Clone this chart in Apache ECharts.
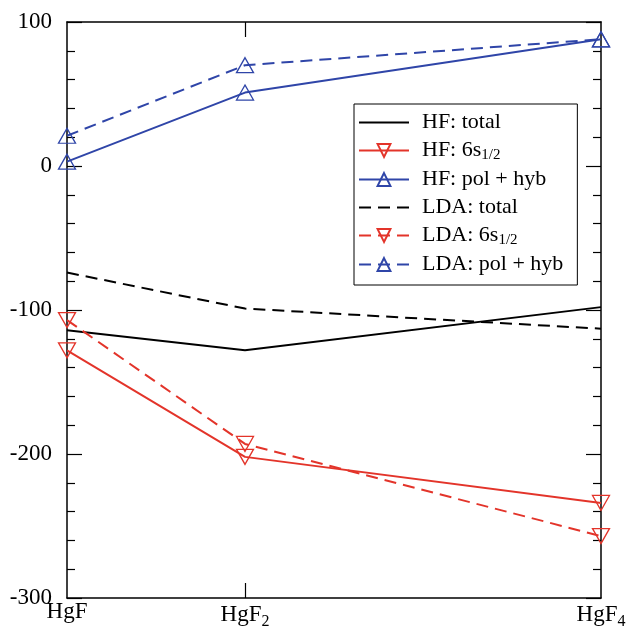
<!DOCTYPE html>
<html>
<head>
<meta charset="utf-8">
<script src="https://cdn.jsdelivr.net/npm/echarts@6/dist/echarts.min.js"></script>
<style>
  html, body { margin: 0; padding: 0; background: #fff; }
  #chart { width: 630px; height: 627px; }
</style>
</head>
<body>
<div id="chart"></div>
<script>
// x positions of the molecules (HgF, HgF2, HgF4 -> number of F atoms)
const xPos = [1, 2, 4]
const xLabels = ['HgF', 'HgF2', 'HgF4']

const hfTotal = [-114, -128, -98]
const hf6s = [-128, -202, -234]
const hfPol = [3, 51, 88]
const ldaTotal = [-74, -99, -113]
const lda6s = [-107, -193, -257]
const ldaPol = [21, 70, 88]

const red = '#e3342a'
const blue = '#2f45a8'
const serif = 'Liberation Serif'

function pts (vals) {
  return vals.map((v, i) => [xPos[i], v])
}

// subscript style for rich text
const subStyle = { fontSize: 15, fontFamily: serif, color: '#000', padding: [10, 0, 0, 0] }

function lineSeries (name, vals, color, dashed, symbol) {
  return {
    name: name,
    type: 'line',
    data: pts(vals),
    lineStyle: { color: color, width: 2, type: dashed ? [12, 7] : 'solid' },
    // totals have no marker: keep symbol invisible (also in the legend)
    itemStyle: symbol
      ? { color: 'rgba(0,0,0,0)', borderColor: color, borderWidth: 1.3 }
      : { color: 'rgba(0,0,0,0)', borderColor: 'rgba(0,0,0,0)', borderWidth: 0 },
    symbol: 'triangle',
    symbolSize: [17, 15],
    symbolRotate: symbol === 'down' ? 180 : 0,
    showSymbol: !!symbol,
    animation: false,
    z: 3
  }
}

const axisLine = { show: true, onZero: false, lineStyle: { color: '#000', width: 1.5 } }
const tickLine = { color: '#000', width: 1.2 }

var myChart = echarts.init(document.getElementById('chart'))

var option = {
  backgroundColor: '#fff',
  animation: false,
  grid: { left: 67, top: 22, right: 29, bottom: 29, outerBoundsMode: 'none', containLabel: false },
  legend: {
    orient: 'vertical',
    left: 354,
    top: 104,
    padding: [7, 14, 9, 4],
    itemWidth: 50,
    itemHeight: 16,
    itemGap: 5,
    borderColor: '#000',
    borderWidth: 1,
    borderRadius: 0,
    backgroundColor: '#fff',
    textStyle: { fontSize: 22, fontFamily: serif, color: '#000', lineHeight: 23, padding: [0, 0, 0, 8], rich: { sub: subStyle } },
    formatter: function (name) {
      return name.replace('6s1/2', '6s{sub|1/2}')
    },
    data: ['HF: total', 'HF: 6s1/2', 'HF: pol + hyb', 'LDA: total', 'LDA: 6s1/2', 'LDA: pol + hyb']
  },
  xAxis: [
    {
      type: 'value',
      min: 1,
      max: 4,
      position: 'bottom',
      axisLine: axisLine,
      splitLine: { show: false },
      axisTick: { show: true, inside: true, length: 15, customValues: [2], lineStyle: tickLine },
      axisLabel: {
        customValues: xPos,
        margin: 2,
        fontSize: 23,
        fontFamily: serif,
        color: '#000',
        formatter: function (v) {
          const lab = xLabels[xPos.indexOf(v)]
          if (lab.length > 3) return lab.slice(0, 3) + '{sub|' + lab.slice(3) + '}'
          return lab
        },
        rich: { sub: { fontSize: 16, fontFamily: serif, color: '#000', padding: [14, 0, 0, 0] } }
      }
    },
    {
      type: 'value',
      min: 1,
      max: 4,
      position: 'top',
      axisLine: axisLine,
      splitLine: { show: false },
      axisTick: { show: true, inside: true, length: 15, customValues: [2], lineStyle: tickLine },
      axisLabel: { show: false }
    }
  ],
  yAxis: [
    {
      type: 'value',
      min: -300,
      max: 100,
      interval: 100,
      position: 'left',
      axisLine: axisLine,
      splitLine: { show: false },
      axisTick: { show: true, inside: true, length: 15, lineStyle: tickLine },
      minorTick: { show: true, splitNumber: 5, length: 8, lineStyle: tickLine },
      axisLabel: { margin: 15, fontSize: 23, fontFamily: serif, color: '#000' }
    },
    {
      type: 'value',
      min: -300,
      max: 100,
      interval: 100,
      position: 'right',
      axisLine: axisLine,
      splitLine: { show: false },
      axisTick: { show: true, inside: true, length: 15, lineStyle: tickLine },
      minorTick: { show: true, splitNumber: 5, length: 8, lineStyle: tickLine },
      axisLabel: { show: false }
    }
  ],
  series: [
    lineSeries('HF: total', hfTotal, '#000', false, null),
    lineSeries('HF: 6s1/2', hf6s, red, false, 'down'),
    lineSeries('HF: pol + hyb', hfPol, blue, false, 'up'),
    lineSeries('LDA: total', ldaTotal, '#000', true, null),
    lineSeries('LDA: 6s1/2', lda6s, red, true, 'down'),
    lineSeries('LDA: pol + hyb', ldaPol, blue, true, 'up')
  ]
}

myChart.setOption(option)
</script>
</body>
</html>
